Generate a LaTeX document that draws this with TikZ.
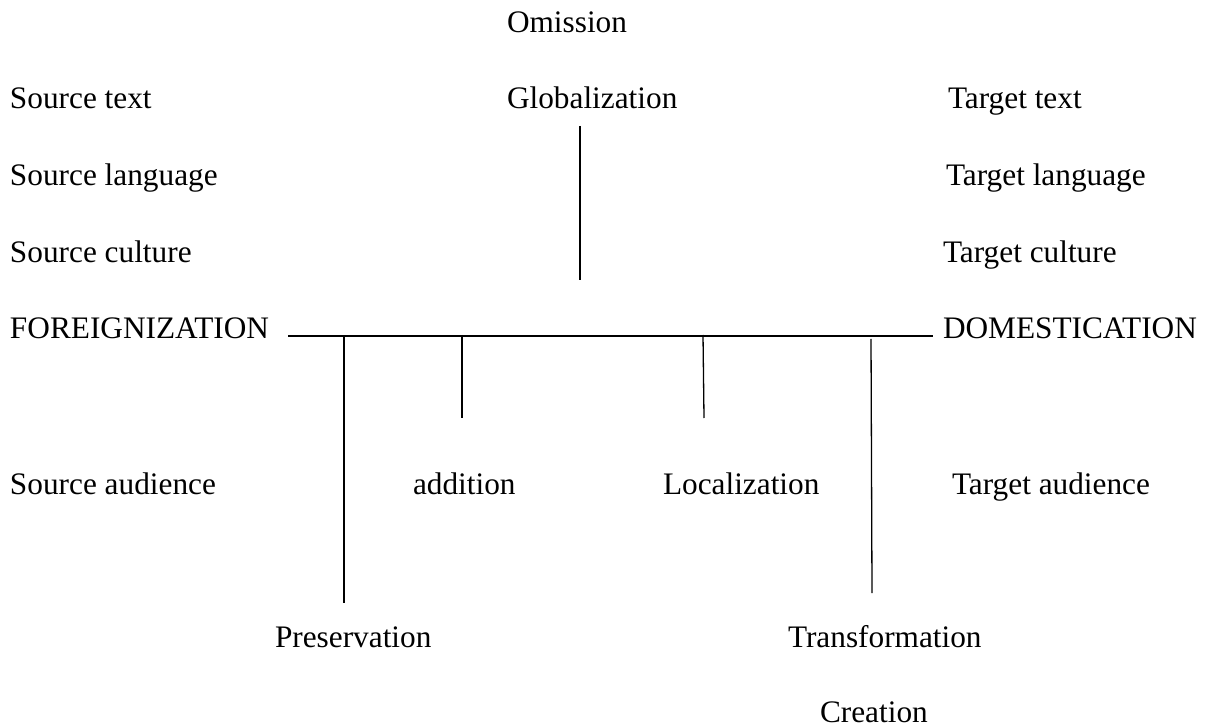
\documentclass[tikz,border=0pt]{standalone}
\usepackage{fontspec}
\setmainfont{Liberation Serif}
\begin{document}
\begin{tikzpicture}[x=0.5pt,y=-0.5pt,
  lbl/.style={anchor=base west,inner sep=0pt,outer sep=0pt,font=\fontsize{15.65}{18}\selectfont},
  rule/.style={draw=black,line width=0.65pt}]
\useasboundingbox (0,0) rectangle (1213,726);
% labels
\node[lbl] (om)  at (507,33)  {Omission};
\node[lbl] (st)  at (10,109)  {Source text};
\node[lbl] (gl)  at (507,109) {Globalization};
\node[lbl] (tt)  at (948,109) {Target text};
\node[lbl] (sl)  at (10,186)  {Source language};
\node[lbl] (tl)  at (946,186) {Target language};
\node[lbl] (sc)  at (10,263)  {Source culture};
\node[lbl] (tc)  at (943,263) {Target culture};
\node[lbl] (fo)  at (10,339)  {FOREIGNIZATION};
\node[lbl] (do)  at (943,339) {DOMESTICATION};
\node[lbl] (sa)  at (10,494)  {Source audience};
\node[lbl] (ad)  at (413,494) {addition};
\node[lbl] (lo)  at (663,494) {Localization};
\node[lbl] (ta)  at (952,494) {Target audience};
\node[lbl] (pr)  at (275,647) {Preservation};
\node[lbl] (tr)  at (788,647) {Transformation};
\node[lbl] (cr)  at (820,722) {Creation};
% line end points
\coordinate (hl) at (288,336);
\coordinate (hr) at (933,336);
\coordinate (gt) at (580,126);
\coordinate (gb) at (580,280);
\coordinate (pt) at (344,336);
\coordinate (pb) at (344,603);
\coordinate (at) at (462,335);
\coordinate (ab) at (462,418);
\coordinate (lt) at (703,335);
\coordinate (lb) at (704,418);
\coordinate (tT) at (871,339);
\coordinate (tB) at (872,593);
% lines
\draw[rule] (hl) -- (hr);
\draw[rule] (gt) -- (gb);
\draw[rule] (pt) -- (pb);
\draw[rule] (at) -- (ab);
\draw[rule] (lt) -- (lb);
\draw[rule] (tT) -- (tB);
\end{tikzpicture}
\end{document}
